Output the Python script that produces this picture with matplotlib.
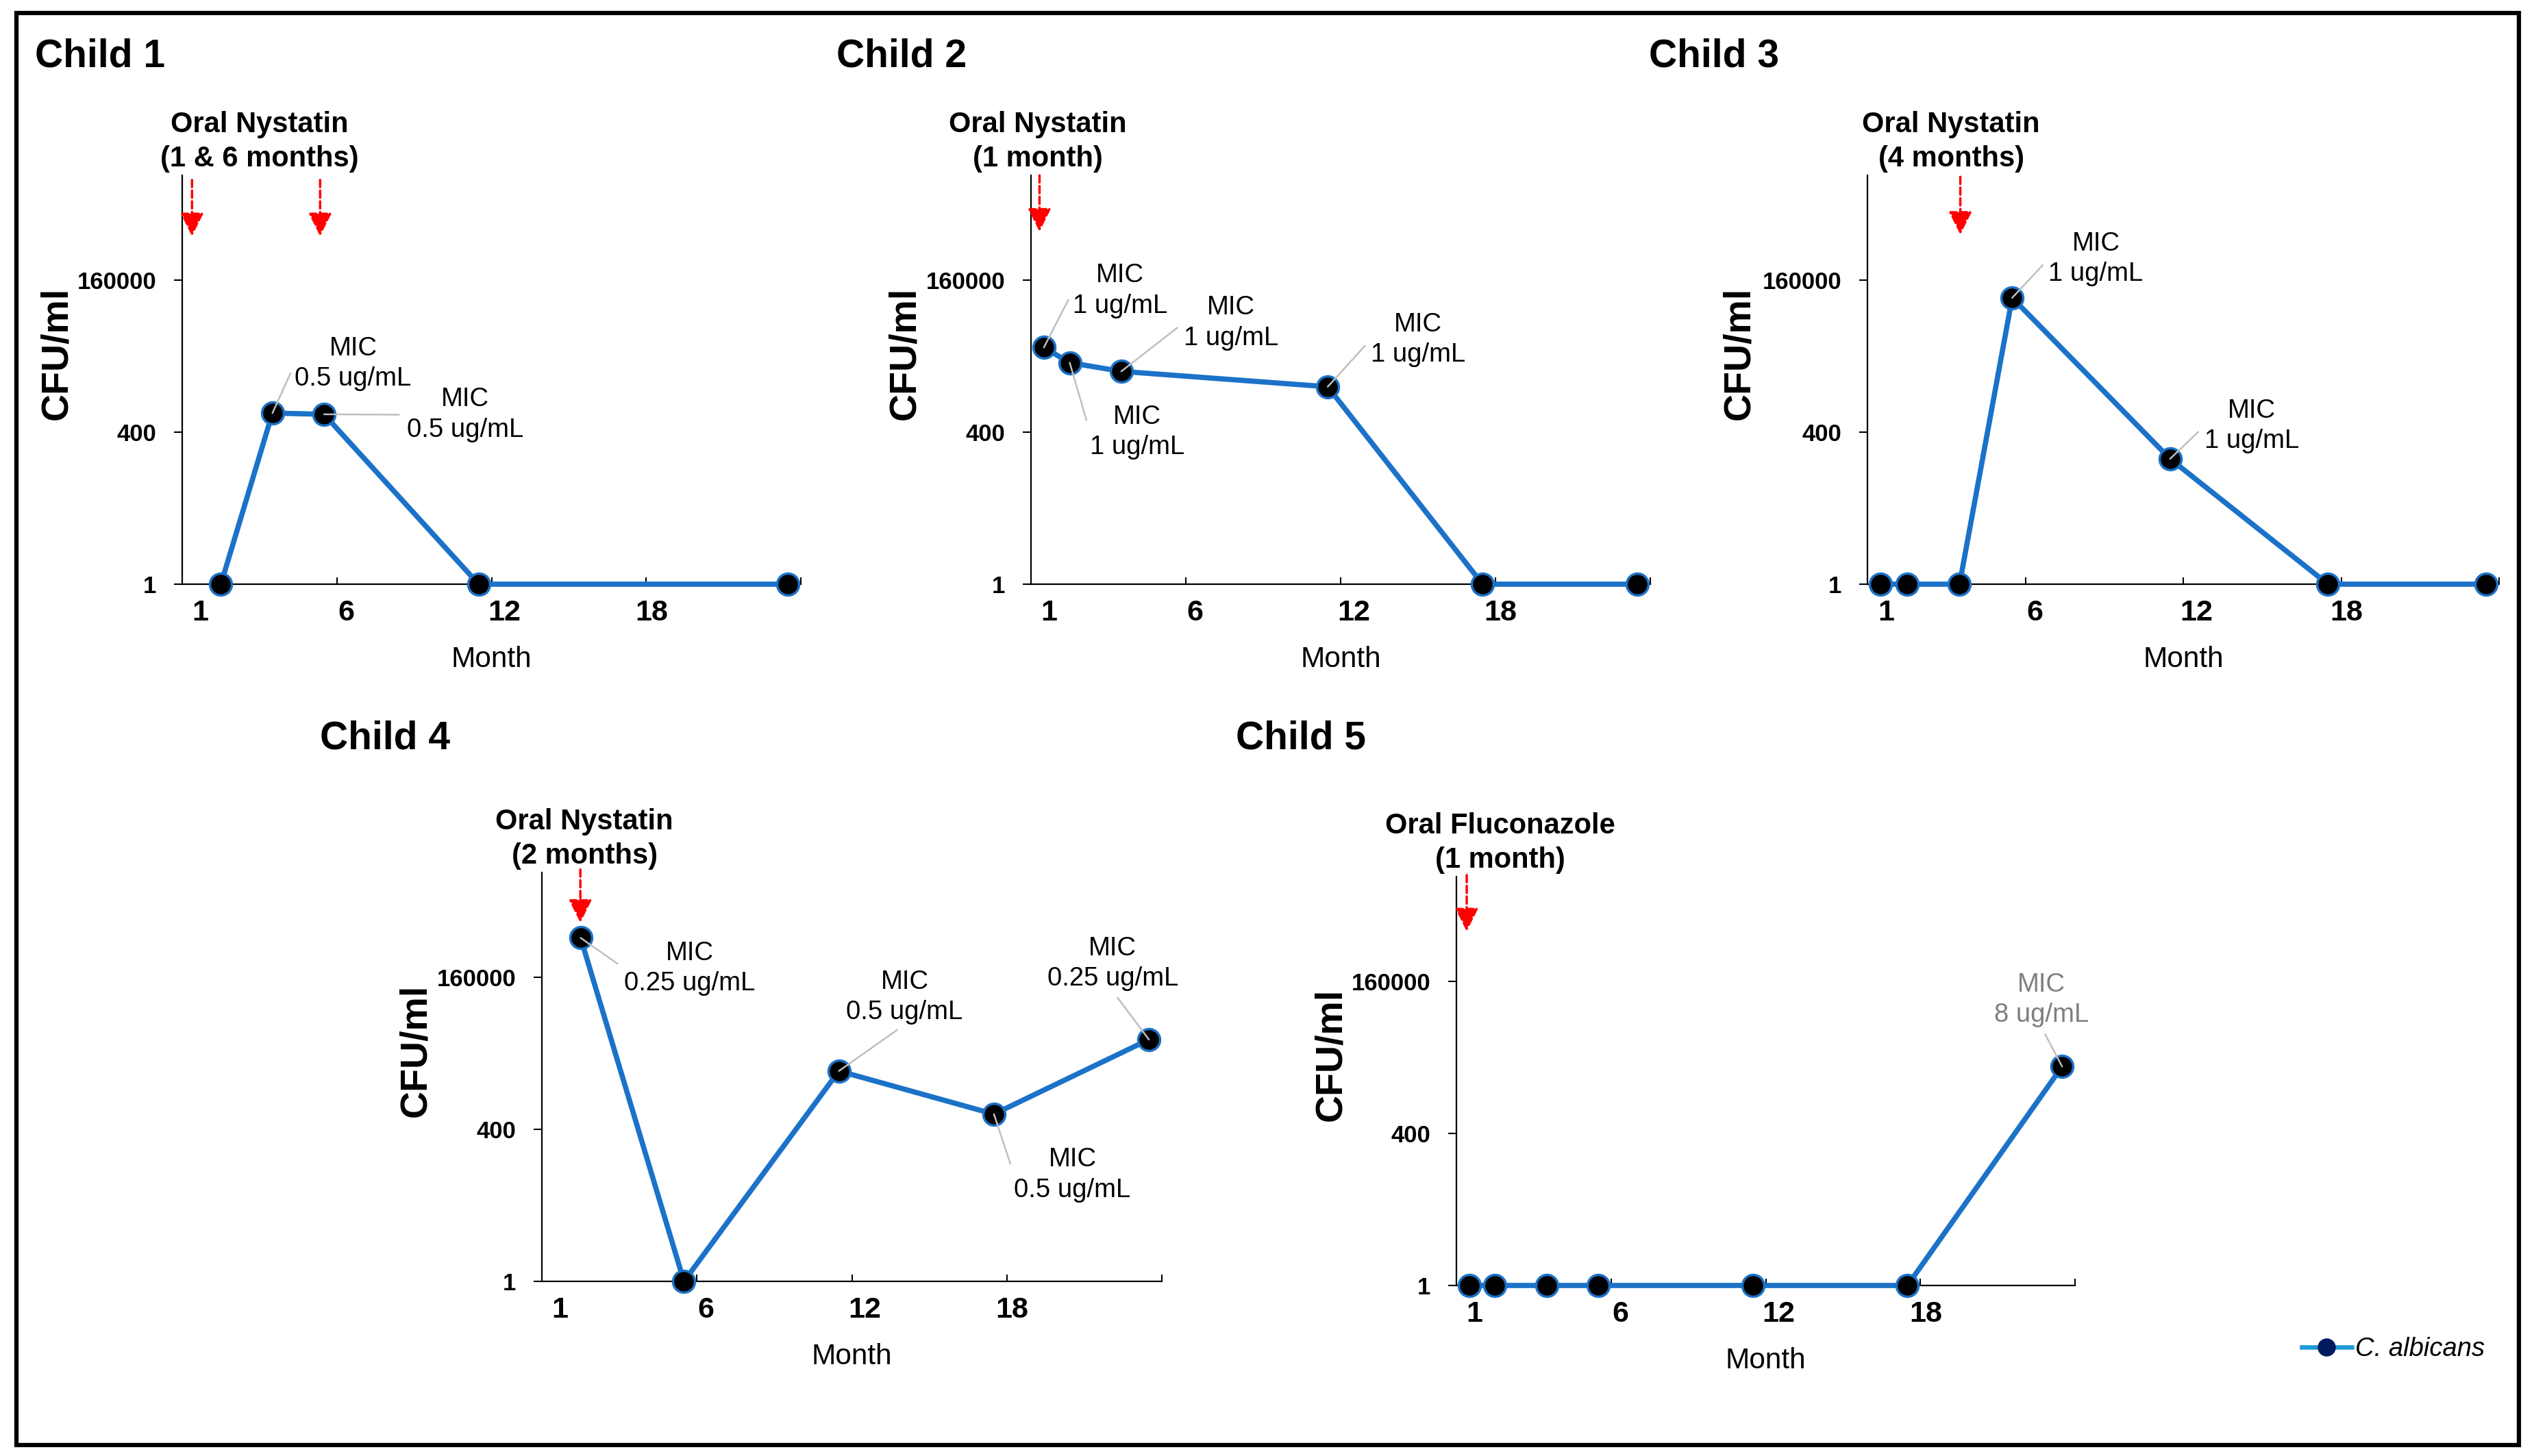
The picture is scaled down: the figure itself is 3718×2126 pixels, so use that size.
import matplotlib
matplotlib.use("Agg")
import matplotlib.pyplot as plt
from matplotlib.patches import Rectangle
from matplotlib.lines import Line2D
from matplotlib.ticker import NullLocator

plt.rcParams['font.family'] = ['Liberation Sans', 'DejaVu Sans']

W, H = 3718, 2126

# ---- data ---------------------------------------------------------------
child_names = ["Child 1", "Child 2", "Child 3", "Child 4", "Child 5"]
treatments = ["Oral Nystatin\n(1 & 6 months)", "Oral Nystatin\n(1 month)",
              "Oral Nystatin\n(4 months)", "Oral Nystatin\n(2 months)",
              "Oral Fluconazole\n(1 month)"]

months_1 = [1.5, 3.5, 5.5, 11.5, 23.5]
cfu_1 = [1, 850, 810, 1, 1]
months_2 = [0.5, 1.5, 3.5, 11.5, 17.5, 23.5]
cfu_2 = [11300, 6200, 4400, 2400, 1, 1]
months_3 = [0.5, 1.5, 3.5, 5.5, 11.5, 17.5, 23.5]
cfu_3 = [1, 1, 1, 80000, 140, 1, 1]
months_4 = [1.5, 5.5, 11.5, 17.5, 23.5]
cfu_4 = [760000, 1, 4000, 730, 13800]
months_5 = [0.5, 1.5, 3.5, 5.5, 11.5, 17.5, 23.5]
cfu_5 = [1, 1, 1, 1, 1, 1, 5600]

# MIC annotations: (point index, text)
mic_1 = [(1, "MIC\n0.5 ug/mL"), (2, "MIC\n0.5 ug/mL")]
mic_2 = [(0, "MIC\n1 ug/mL"), (1, "MIC\n1 ug/mL"), (2, "MIC\n1 ug/mL"), (3, "MIC\n1 ug/mL")]
mic_3 = [(3, "MIC\n1 ug/mL"), (4, "MIC\n1 ug/mL")]
mic_4 = [(0, "MIC\n0.25 ug/mL"), (2, "MIC\n0.5 ug/mL"), (4, "MIC\n0.25 ug/mL"), (3, "MIC\n0.5 ug/mL")]
mic_5 = [(6, "MIC\n8 ug/mL")]

y_ticks = [1, 400, 160000]
y_tick_labels = ["1", "400", "160000"]
x_tick_labels = ["1", "6", "12", "18"]

# ---- layout ----------------------------------------------------------------
BASE = 400  # log axis base, ticks at 400^0, 400^1, 400^2
# axes rectangles in pixels: left, bottom(y from top), width
axes_px = [(266, 853, 903), (1505, 853, 904), (2726, 853, 922),
           (791, 1871, 905), (2126, 1877, 903)]
AX_H = 597
title_px = [(51, 82), (1221, 82), (2407, 82), (467, 1079), (1804, 1079)]
treat_x = [3.0, 0.26, 3.18, 1.65, 1.7]
# arrows: (month, top decade, tip decade)
arrows = [[(0.38, 2.66, 2.29), (5.35, 2.66, 2.29)], [(0.33, 2.69, 2.32)],
          [(3.53, 2.68, 2.30)], [(1.49, 2.71, 2.36)], [(0.4, 2.70, 2.33)]]
# MIC text anchor: (month, decade, relpos)
L, B_ = (0, 0.5), (0.5, 0)
mic_pos = [[(6.63, 1.45, L), (10.97, 1.115, L)],
           [(3.46, 1.93, L), (4.12, 1.0, L), (7.75, 1.72, L), (15.0, 1.61, L)],
           [(8.68, 2.14, L), (14.6, 1.04, L)],
           [(5.72, 2.06, L), (14.04, 1.87, B_), (22.1, 2.09, B_), (20.54, 0.70, L)],
           [(22.7, 1.88, B_)]]
mic_color = ["black", "black", "black", "black", "#7f7f7f"]
tick_label_pos = [0.7, 6.35, 12.5, 18.2]

series = [(months_1, cfu_1, mic_1), (months_2, cfu_2, mic_2), (months_3, cfu_3, mic_3),
          (months_4, cfu_4, mic_4), (months_5, cfu_5, mic_5)]

LINE_BLUE = "#1b72c8"

fig = plt.figure(figsize=(W / 100, H / 100), dpi=100)

for i, (months, cfu, mics) in enumerate(series):
    left, bottom, width = axes_px[i]
    ax = fig.add_axes([left / W, 1 - bottom / H, width / W, AX_H / H])

    ax.plot(months, cfu, "-o", color=LINE_BLUE, lw=5.5, ms=23, mfc="black",
            mec=LINE_BLUE, mew=2.5, clip_on=False, zorder=3)

    ax.set_yscale("log", base=BASE)
    ax.set_ylim(1, 1e7)
    ax.set_xlim(0, 24)

    ax.spines["top"].set_visible(False)
    ax.spines["right"].set_visible(False)
    ax.spines["left"].set_linewidth(1.6)
    ax.spines["bottom"].set_linewidth(1.6)

    ax.set_yticks(y_ticks)
    ax.set_yticklabels(y_tick_labels, fontsize=25, fontweight="bold")
    ax.yaxis.set_minor_locator(NullLocator())
    ax.tick_params(axis="y", direction="out", length=9, width=1.5, pad=18)

    ax.set_xticks([6, 12, 18, 24])
    ax.set_xticklabels([])
    ax.tick_params(axis="x", which="major", direction="in", length=7, width=1.5)
    ax.set_xticks(tick_label_pos, minor=True)
    ax.set_xticklabels(x_tick_labels, minor=True, fontsize=31, fontweight="bold")
    ax.tick_params(axis="x", which="minor", length=0, pad=16)

    ax.set_ylabel("CFU/ml", fontsize=40, fontweight="bold")
    ax.yaxis.set_label_coords(-0.174, 0.565)
    ax.set_xlabel("Month", fontsize=30.5)
    ax.xaxis.set_label_coords(0.5, -0.151)

    # treatment label
    ax.text(treat_x[i], 1.082, treatments[i], transform=ax.get_xaxis_transform(),
            ha="center", va="center", fontsize=30, fontweight="bold",
            linespacing=1.35)

    # red dashed arrows for treatment start
    for m, top, tip in arrows[i]:
        ax.annotate("", xy=(m, BASE ** tip), xytext=(m, BASE ** top),
                    annotation_clip=False,
                    arrowprops=dict(arrowstyle="-|>,head_length=0.9,head_width=0.45",
                                    color="red", lw=2.5, linestyle=(0, (3, 1.5)),
                                    mutation_scale=23, shrinkA=0, shrinkB=0))

    # MIC labels with leader lines
    for (idx, txt), (tm, td, rel) in zip(mics, mic_pos[i]):
        ax.annotate(txt, xy=(months[idx], cfu[idx]), xytext=(tm, BASE ** td),
                    ha="center", va="center", fontsize=27.5, color=mic_color[i],
                    linespacing=1.3, annotation_clip=False, zorder=5,
                    arrowprops=dict(arrowstyle="-", color="#bfbfbf", lw=1.8,
                                    relpos=rel, shrinkA=6, shrinkB=0))

    tx, ty = title_px[i]
    fig.text(tx / W, 1 - ty / H, child_names[i], ha="left", va="center",
             fontsize=41, fontweight="bold")

# legend
handle = Line2D([], [], color="#1e9bd7", lw=4.7, marker="o", ms=18,
                mfc="#001a5e", mec="#001a5e")
fig.legend([handle], ["C. albicans"], loc="center left",
           bbox_to_anchor=(3360 / W, 1 - 1970 / H), frameon=False,
           prop=dict(size=27.5, style="italic"), handlelength=1.9,
           handletextpad=0.15, borderpad=0, borderaxespad=0)

# outer frame
fig.add_artist(Rectangle((24 / W, 1 - 2110 / H), (3677 - 24) / W, (2110 - 19) / H,
                         transform=fig.transFigure, fill=False, lw=4.5,
                         ec="black"))

fig.savefig("out.png", dpi=100)
